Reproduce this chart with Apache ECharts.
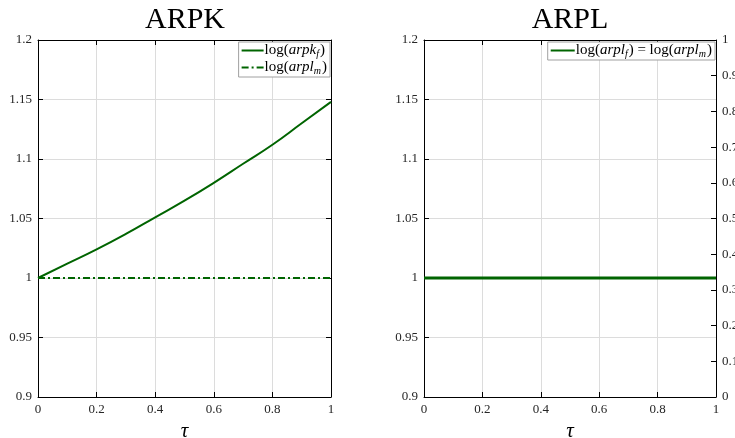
<!DOCTYPE html>
<html>
<head>
<meta charset="utf-8">
<script src="https://cdn.jsdelivr.net/npm/echarts@6/dist/echarts.min.js"></script>
<style>
  html, body { margin: 0; padding: 0; background: #fff; }
  #chart { width: 735px; height: 438px; }
</style>
</head>
<body>
<div id="chart"></div>
<script>
  // tau grid and values
  var tau = [0, 0.1, 0.2, 0.3, 0.4, 0.5, 0.6, 0.7, 0.8, 0.9, 1];
  var arpkF = [1.000, 1.012, 1.024, 1.037, 1.051, 1.065, 1.080, 1.096, 1.112, 1.130, 1.148];
  var arplM = [1, 1, 1, 1, 1, 1, 1, 1, 1, 1, 1];
  var arplF = [1, 1, 1, 1, 1, 1, 1, 1, 1, 1, 1];
  var titles = ['ARPK', 'ARPL'];

  function pairs(xs, ys) {
    return xs.map(function (x, i) { return [x, ys[i]]; });
  }

  var serif = 'Liberation Serif, DejaVu Serif, serif';
  var green = '#006400';

  var rich = {
    n: { fontFamily: serif, fontSize: 15, color: '#000' },
    i: { fontFamily: serif, fontSize: 15, fontStyle: 'italic', color: '#000' },
    s: { fontFamily: serif, fontSize: 10, fontStyle: 'italic', color: '#000', padding: [7, 1, 0, 0] }
  };
  var legendNames = {
    'arpk_f': '{n|log(}{i|arpk}{s|f}{n|)}',
    'arpl_m': '{n|log(}{i|arpl}{s|m}{n|)}',
    'arpl_f=arpl_m': '{n|log(}{i|arpl}{s|f}{n|) = log(}{i|arpl}{s|m}{n|)}'
  };

  var myChart = echarts.init(document.getElementById('chart'));

  function xAx(gi, pos, show) {
    return {
      type: 'value', gridIndex: gi, position: pos, min: 0, max: 1, interval: 0.2,
      name: show ? 'τ' : '', nameLocation: 'middle', nameGap: 22,
      nameTextStyle: { fontFamily: serif, fontSize: 21, fontStyle: 'italic', color: '#000' },
      axisLine: { onZero: false, lineStyle: { color: '#000', width: 1 } },
      axisTick: { inside: true, length: 5, lineStyle: { color: '#000' } },
      axisLabel: { show: show, margin: 6, fontFamily: serif, fontSize: 13, color: '#262626' },
      splitLine: { show: show, lineStyle: { color: '#dcdcdc', width: 1 } }
    };
  }
  function yAx(gi, pos, show, min, max, interval, grid) {
    return {
      type: 'value', gridIndex: gi, position: pos, min: min, max: max, interval: interval,
      axisLine: { onZero: false, lineStyle: { color: '#000', width: 1 } },
      axisTick: { inside: true, length: 5, lineStyle: { color: '#000' } },
      axisLabel: { show: show, margin: 6, fontFamily: serif, fontSize: 13, color: '#262626' },
      splitLine: { show: grid, lineStyle: { color: '#dcdcdc', width: 1 } }
    };
  }

  var legendBase = {
    orient: 'vertical', top: 42, itemGap: 1, padding: [1, 3, 1, 2],
    borderColor: '#a0a0a0', borderWidth: 1, backgroundColor: '#fff', borderRadius: 0,
    itemStyle: { opacity: 0 },
    formatter: function (n) { return legendNames[n]; },
    textStyle: { rich: rich, padding: [0, 0, 0, -4] }
  };

  myChart.setOption({
    animation: false,
    backgroundColor: '#fff',
    title: [
      { text: titles[0], left: 180, top: 0, textAlign: 'center',
        textStyle: { fontFamily: serif, fontSize: 30, fontWeight: 'normal', color: '#000' } },
      { text: titles[1], left: 565, top: 0, textAlign: 'center',
        textStyle: { fontFamily: serif, fontSize: 30, fontWeight: 'normal', color: '#000' } }
    ],
    grid: [
      { left: 38, right: 404, top: 40, bottom: 41, outerBoundsMode: 'none' },
      { left: 424, right: 19, top: 40, bottom: 41, outerBoundsMode: 'none' }
    ],
    legend: [
      Object.assign({}, legendBase, {
        data: ['arpk_f', 'arpl_m'], right: 405, itemWidth: 22, itemHeight: 12
      }),
      Object.assign({}, legendBase, {
        data: ['arpl_f=arpl_m'], right: 20, itemWidth: 24, itemHeight: 14
      })
    ],
    xAxis: [
      xAx(0, 'bottom', true),
      xAx(0, 'top', false),
      xAx(1, 'bottom', true),
      xAx(1, 'top', false)
    ],
    yAxis: [
      yAx(0, 'left', true, 0.9, 1.2, 0.05, true),
      yAx(0, 'right', false, 0.9, 1.2, 0.05, false),
      yAx(1, 'left', true, 0.9, 1.2, 0.05, true),
      yAx(1, 'right', true, 0, 1, 0.1, false)
    ],
    series: [
      {
        name: 'arpk_f', type: 'line', xAxisIndex: 0, yAxisIndex: 0, smooth: true,
        symbol: 'none', data: pairs(tau, arpkF),
        lineStyle: { color: green, width: 2 }, itemStyle: { color: green }
      },
      {
        name: 'arpl_m', type: 'line', xAxisIndex: 0, yAxisIndex: 0,
        symbol: 'none', data: pairs(tau, arplM),
        lineStyle: { color: green, width: 1.8, type: [7, 3, 2, 3] }, itemStyle: { color: green }
      },
      {
        name: 'arpl_f=arpl_m', type: 'line', xAxisIndex: 2, yAxisIndex: 2,
        symbol: 'none', data: pairs(tau, arplF),
        lineStyle: { color: green, width: 3 }, itemStyle: { color: green }
      }
    ]
  });
</script>
</body>
</html>
